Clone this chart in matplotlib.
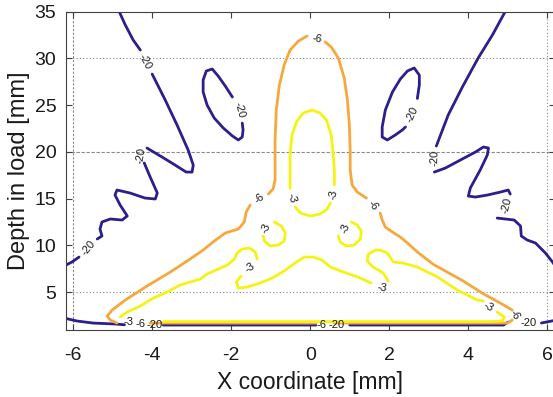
import numpy as np
import matplotlib
matplotlib.use("Agg")
import matplotlib.pyplot as plt

plt.rcParams['font.family'] = ['Liberation Sans', 'DejaVu Sans']
plt.rcParams['axes.unicode_minus'] = False

nan = np.nan

# ---------------- contour level -20 (blue) ----------------
blue_left_x = [-4.84, -4.68, -4.48, -4.30, nan,
               -4.00, -3.67, -3.37, -3.09, -2.96, -2.99, -3.14, -3.42, -3.75, -4.05, -4.13, nan,
               -4.20, -4.05, -3.87, -3.92, -4.18, -4.56, -4.89, -4.94, -4.81, -4.63, -4.76, -5.06,
               -5.27, -5.32, -5.27, -5.39, nan,
               -5.85, -6.03, -6.23]
blue_left_y = [35.05, 33.56, 31.95, 30.88, nan,
               28.31, 25.54, 22.86, 20.19, 18.58, 17.83, 17.83, 18.58, 19.44, 20.19, 20.40, nan,
               18.80, 17.30, 15.59, 14.95, 15.05, 15.59, 15.91, 15.37, 14.30, 13.13, 12.70, 12.81,
               12.49, 11.74, 10.99, 10.67, nan,
               8.74, 8.21, 7.78]

blue_ell_left_x = [-1.97, -2.15, -2.33, -2.48, -2.63, -2.71, -2.71, -2.61, -2.43, -2.20, -1.97,
                   -1.82, -1.72, -1.70, -1.72]
blue_ell_left_y = [25.85, 27.03, 28.10, 28.85, 28.64, 27.67, 26.39, 25.00, 23.61, 22.54, 21.69,
                   21.26, 21.58, 22.33, 23.07]

blue_ell_right_x = [2.71, 2.76, 2.76, 2.63, 2.46, 2.28, 2.08, 1.90, 1.82, 1.82, 1.95, 2.15, 2.33, 2.41]
blue_ell_right_y = [25.70, 27.15, 28.20, 28.96, 28.64, 27.78, 26.39, 24.47, 22.65, 21.58, 21.26,
                    21.79, 22.33, 22.65]

blue_right_x = [4.94, 4.61, 4.25, 3.85, 3.49, 3.19, nan,
                3.14, 3.42, 3.80, 4.18, 4.38, 4.51, 4.48, 4.30, 4.05, 4.00, 4.18, 4.48, 4.81, 5.01, 5.06, nan,
                4.73, 4.94, 5.16, 5.32, 5.34, 5.49, 5.70, 5.95, 6.13, 6.23]
blue_right_y = [35.05, 32.49, 30.03, 26.93, 23.93, 20.61, nan,
                17.83, 18.26, 19.12, 19.97, 20.51, 20.40, 19.65, 18.05, 16.12, 15.26, 15.16, 15.37, 15.69,
                15.91, 15.48, nan,
                12.91, 12.81, 12.70, 12.06, 10.99, 10.56, 10.24, 9.17, 8.21, 7.57]

blue_bottom_x = [-6.23, -5.90, -5.49, -4.94, -4.70, nan, -3.72, 0.14, nan, 1.00, 4.89, 5.01, nan, 5.85, 6.23]
blue_bottom_y = [2.22, 1.90, 1.68, 1.58, 1.50, nan, 1.47, 1.47, nan, 1.47, 1.47, 1.79, nan, 1.69, 2.00]

# ---------------- contour level -6 (orange) ----------------
orange_x = [-0.08, -0.30, -0.51, -0.66, -0.78, -0.86, -0.89, -0.89, -0.89, -0.94, -1.06, nan,
            -1.52, -1.62, -1.67, -1.82, -2.15, -2.43, -2.71, -3.04, -3.54, -4.13, -4.68, -5.01, -5.14,
            -5.06, -4.89, nan,
            -4.05, 0.15, nan,
            0.60, 4.94, 4.99, 5.11, nan,
            5.11, 4.81, 4.38, 3.87, 3.11, 2.71, 2.46, 2.28, 2.08, 1.90, 1.82, 1.77, nan,
            1.42, 1.19, 1.06, 1.01, 1.01, 0.99, 0.94, 0.86, 0.71, 0.53, 0.38]
orange_y = [32.38, 31.84, 30.88, 29.28, 27.14, 24.47, 21.26, 18.58, 16.98, 16.02, 15.48, nan,
            14.30, 13.56, 12.49, 11.74, 11.31, 10.45, 9.49, 8.53, 7.14, 5.64, 4.14, 3.08, 2.43,
            2.01, 1.68, nan,
            1.68, 1.68, nan,
            1.68, 1.68, 1.68, 2.00, nan,
            3.07, 3.82, 4.81, 6.18, 7.97, 9.28, 10.24, 10.88, 11.42, 11.95, 12.70, 13.45, nan,
            15.05, 15.69, 16.44, 18.05, 20.19, 22.86, 25.54, 27.89, 30.03, 31.20, 31.74]

# ---------------- contour level -3 (yellow) ----------------
yellow_top_x = [-0.51, -0.51, -0.51, -0.46, -0.35, -0.18, 0.05, 0.25, 0.41, 0.53, 0.58, 0.61, 0.61, nan,
                0.51, 0.43, 0.25, 0.00, -0.25, -0.38]
yellow_top_y = [16.10, 17.70, 19.84, 21.79, 23.18, 24.14, 24.47, 24.14, 23.40, 21.79, 19.84, 18.05, 16.44, nan,
                14.52, 13.88, 13.34, 13.13, 13.45, 14.09]

yellow_loop_l_x = [-0.91, -0.73, -0.63, -0.66, -0.81, -1.01, -1.16, -1.19]
yellow_loop_l_y = [12.49, 12.06, 11.31, 10.45, 10.02, 9.92, 10.45, 10.99]

yellow_loop_r_x = [1.04, 1.19, 1.29, 1.27, 1.11, 0.91, 0.76, 0.71]
yellow_loop_r_y = [12.49, 12.17, 11.52, 10.67, 10.02, 9.92, 10.35, 10.99]

yellow_outer_x = [-4.81, -4.63, -4.30, -3.97, -3.62, -3.29, -2.78, -2.61, -2.10, -1.92, -1.85, -1.72,
                  -1.54, -1.39, -1.34, nan,
                  -1.75, -1.87, -1.82, -1.59, -1.27, -0.96, -0.66, -0.35, -0.15, 0.08, 0.30, 0.51, 0.84,
                  1.27, 1.54, nan,
                  1.97, 1.85, 1.59, 1.44, 1.47, 1.65, 1.77, 1.95, 2.10, 2.35, 2.71, 3.22, 3.72, 4.23, 4.38, nan,
                  4.73, 4.91, 4.86, 4.56, -3.72]
yellow_outer_y = [2.33, 2.86, 3.50, 4.36, 5.00, 5.75, 6.39, 6.93, 7.89, 8.53, 9.17, 9.60,
                  9.71, 9.28, 8.53, nan,
                  6.71, 6.07, 5.43, 5.54, 5.96, 6.50, 7.25, 8.21, 8.74, 8.74, 8.42, 7.67, 7.14,
                  6.50, 5.96, nan,
                  6.18, 7.03, 7.67, 8.32, 9.06, 9.49, 9.49, 9.17, 8.21, 8.10, 7.67, 6.61, 5.21, 4.14, 4.04, nan,
                  2.86, 2.33, 1.90, 1.84, 1.84]

# ---------------- contour labels ----------------
label_x = [-4.18, -4.28, -5.62, -1.80, 2.58, 3.16, 4.96, -3.95, 0.67, 5.52,
           0.18, -1.29, 1.59, 5.16, -4.30, 0.28,
           -0.46, 0.58, -1.11, 0.89, -1.54, 1.82, 4.51, -4.60]
label_y = [29.60, 19.65, 9.70, 24.46, 24.04, 19.33, 14.30, 1.50, 1.50, 1.69,
           32.05, 15.05, 14.30, 2.54, 1.62, 1.50,
           15.05, 15.38, 11.84, 11.84, 7.57, 5.43, 3.40, 1.79]
label_text = ['-20', '-20', '-20', '-20', '-20', '-20', '-20', '-20', '-20', '-20',
              '-6', '-6', '-6', '-6', '-6', '-6',
              '-3', '-3', '-3', '-3', '-3', '-3', '-3', '-3']
label_rot = [-62, 80, 50, -75, 65, 88, 75, 0, 0, 0,
             -10, 40, -55, -60, 0, 0,
             -75, 80, 65, 70, 35, -10, -30, 0]

x_ticks = [-6, -4, -2, 0, 2, 4, 6]
y_ticks = [5, 10, 15, 20, 25, 30, 35]

BLUE = '#2b1f8c'
ORANGE = '#f6a83c'
YELLOW = '#f4f314'

fig = plt.figure(figsize=(5.53, 3.97), dpi=100)
ax = fig.add_axes([66 / 553, 1 - 330 / 397, (554.5 - 66) / 553, (330 - 11.5) / 397])
ax.set_xlim(-6.18, 6.18)
ax.set_ylim(0.94, 35)

# sparse grid lines
gc = '#8a8a8a'
ax.axhline(30, color=gc, lw=0.8, ls=(0, (1, 2)), zorder=1)
ax.axhline(5, color=gc, lw=0.8, ls=(0, (1, 2)), zorder=1)
ax.axhline(20, color=gc, lw=0.8, ls=(0, (3, 1.5)), zorder=1)
ax.axvline(-6, color=gc, lw=0.8, ls=(0, (2, 1.5)), zorder=1)
ax.axvline(6, color=gc, lw=0.8, ls=(0, (1, 2)), zorder=1)

lw = 2.0
for xs, ys in [(blue_left_x, blue_left_y), (blue_ell_left_x, blue_ell_left_y),
               (blue_ell_right_x, blue_ell_right_y), (blue_right_x, blue_right_y),
               (blue_bottom_x, blue_bottom_y)]:
    ax.plot(xs, ys, color=BLUE, lw=lw, solid_capstyle='round', solid_joinstyle='round', zorder=2)
ax.plot(orange_x, orange_y, color=ORANGE, lw=lw, solid_capstyle='round', solid_joinstyle='round', zorder=3)
for xs, ys in [(yellow_top_x, yellow_top_y), (yellow_loop_l_x, yellow_loop_l_y),
               (yellow_loop_r_x, yellow_loop_r_y), (yellow_outer_x, yellow_outer_y)]:
    ax.plot(xs, ys, color=YELLOW, lw=lw, solid_capstyle='round', solid_joinstyle='round', zorder=4)

for lx, ly, lt, lr in zip(label_x, label_y, label_text, label_rot):
    ax.text(lx, ly, lt, rotation=lr, ha='center', va='center', fontsize=8,
            color='#1a1a1a', rotation_mode='anchor', zorder=5)

ax.set_xticks(x_ticks)
ax.set_yticks(y_ticks)
ax.tick_params(direction='in', top=True, right=True, length=4, width=0.8, color='#404040',
               labelsize=14, labelcolor='#1a1a1a')
ax.tick_params(axis='x', pad=12)
ax.tick_params(axis='y', pad=7)
for s in ax.spines.values():
    s.set_color('#404040')
    s.set_linewidth(0.8)

ax.set_xlabel('X coordinate [mm]', fontsize=16.5, color='#1a1a1a', labelpad=5)
ax.set_ylabel('Depth in load [mm]', fontsize=17, color='#1a1a1a', labelpad=3)

fig.savefig('out.png', dpi=100)
